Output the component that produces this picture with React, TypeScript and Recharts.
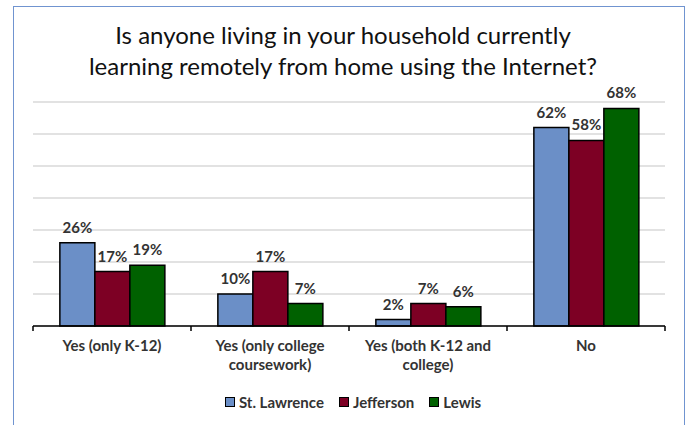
import React from 'react'
import {
  BarChart, Bar, XAxis, YAxis, CartesianGrid, LabelList, Text
} from 'recharts'

const categories = [
  'Yes (only K-12)',
  'Yes (only college coursework)',
  'Yes (both K-12 and college)',
  'No',
]
const stLawrence = [26, 10, 2, 62]
const jefferson = [17, 17, 7, 58]
const lewis = [19, 7, 6, 68]
const yTicks = [0, 10, 20, 30, 40, 50, 60, 70]

const series = [
  { key: 'stLawrence', name: 'St. Lawrence', color: '#6b8fc7' },
  { key: 'jefferson', name: 'Jefferson', color: '#7d0024' },
  { key: 'lewis', name: 'Lewis', color: '#006100' },
]

const data = categories.map((c, i) => ({
  cat: c,
  stLawrence: stLawrence[i],
  jefferson: jefferson[i],
  lewis: lewis[i],
}))

const W = 686
const H = 425
const margin = { top: 102, right: 21, bottom: 69, left: 33 }
const band = (W - margin.left - margin.right) / categories.length
const font = 'Lato, "Open Sans", sans-serif'
const textColor = '#333333'

function CatTick(props: any) {
  const { x, y, payload, index } = props
  return (
    <g>
      <line x1={x - band / 2} x2={x - band / 2} y1={y - 8} y2={y - 3} stroke="#000" strokeWidth={1.5} />
      {index === categories.length - 1 && (
        <line x1={x + band / 2} x2={x + band / 2} y1={y - 8} y2={y - 3} stroke="#000" strokeWidth={1.5} />
      )}
      <Text
        x={x}
        y={y + 6}
        width={145}
        textAnchor="middle"
        verticalAnchor="start"
        lineHeight={19}
        style={{ fontFamily: font, fontSize: 15, fontWeight: 700, fill: textColor }}
      >
        {payload.value}
      </Text>
    </g>
  )
}

function LegendBox() {
  return (
    <div style={{ position: 'absolute', left: 10, top: 393, width: W, display: 'flex', justifyContent: 'center', gap: 15, fontFamily: font, fontSize: 15, fontWeight: 700, color: textColor }}>
      {series.map((s) => (
        <div key={s.key} style={{ display: 'flex', alignItems: 'center' }}>
          <span style={{ width: 8, height: 8, background: s.color, border: '1px solid #000', marginRight: 4, display: 'inline-block' }} />
          <span>{s.name}</span>
        </div>
      ))}
    </div>
  )
}

export default function App() {
  return (
    <div style={{ position: 'absolute', left: 0, top: 0, width: W, height: H, overflow: 'hidden', background: '#fff' }}>
      <div style={{ position: 'absolute', left: 13, top: 6, width: 670, height: 440, border: '1.5px solid #7094d0' }} />
      <div style={{ position: 'absolute', left: 0, top: 19, width: W, textAlign: 'center', fontFamily: font, fontSize: 24, lineHeight: '31px', color: '#111' }}>
        Is anyone living in your household currently<br />
        learning remotely from home using the Internet?
      </div>
      <div style={{ position: 'absolute', left: 0, top: 0 }}>
        <BarChart width={W} height={H} data={data} margin={margin} barGap={0} barCategoryGap="17%">
          <CartesianGrid vertical={false} stroke="#d9d9d9" strokeWidth={1.5} />
          <YAxis hide domain={[0, 70]} ticks={yTicks} />
          <XAxis
            dataKey="cat"
            axisLine={{ stroke: '#000', strokeWidth: 1.5 }}
            tickLine={false}
            tick={<CatTick />}
            interval={0}
          />
          {series.map((s) => (
            <Bar key={s.key} dataKey={s.key} name={s.name} fill={s.color} stroke="#000" strokeWidth={1.5} isAnimationActive={false}>
              <LabelList
                dataKey={s.key}
                position="top"
                offset={10}
                formatter={(v: any) => `${v}%`}
                style={{ fontFamily: font, fontSize: 15, fontWeight: 700, fill: textColor }}
              />
            </Bar>
          ))}
        </BarChart>
      </div>
      <LegendBox />
    </div>
  )
}
